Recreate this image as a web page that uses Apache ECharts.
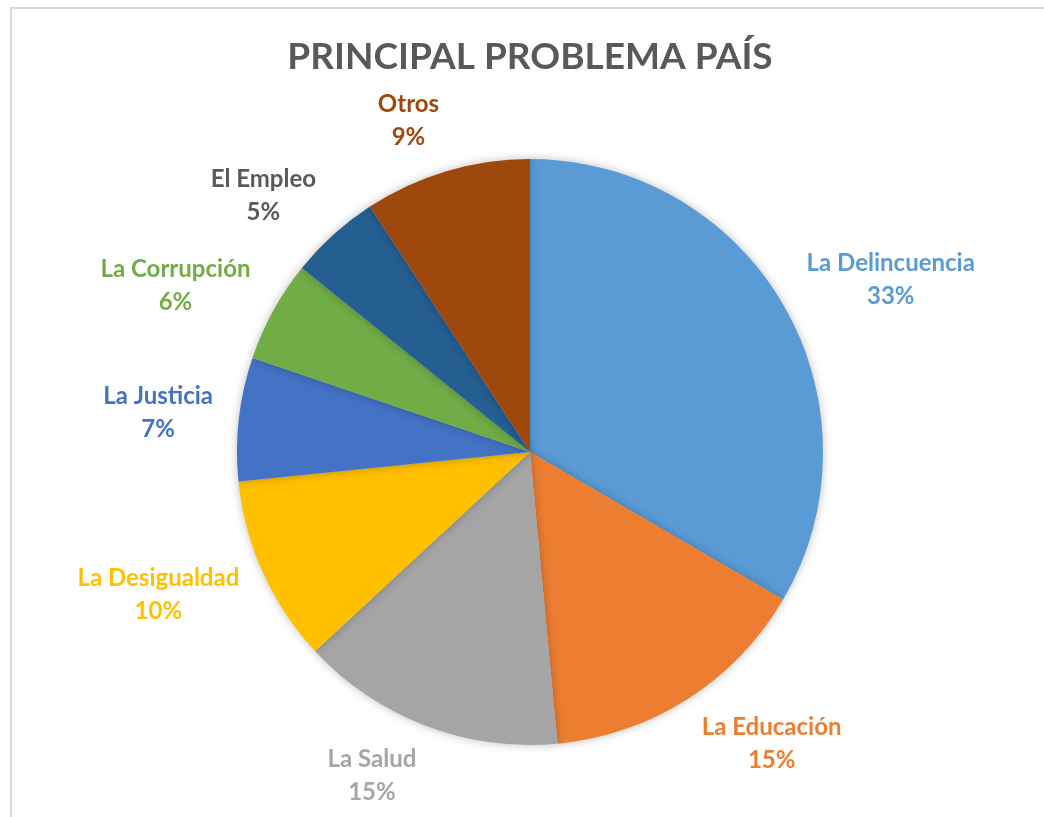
<!DOCTYPE html>
<html>
<head>
<meta charset="utf-8">
<script src="https://cdn.jsdelivr.net/npm/echarts@6/dist/echarts.min.js"></script>
<style>
  html, body { margin: 0; padding: 0; background: #fff; }
  #chart { width: 1044px; height: 817px; }
</style>
</head>
<body>
<div id="chart"></div>
<script>
const categories = ["La Delincuencia", "La Educación", "La Salud", "La Desigualdad", "La Justicia", "La Corrupción", "El Empleo", "Otros"];
// shares (labels show them rounded)
const shares = [33.4, 15.1, 14.6, 10.3, 6.8, 5.6, 5.0, 9.2];
const sliceColors = ["#5B9BD5", "#ED7D31", "#A5A5A5", "#FFC000", "#4472C4", "#70AD47", "#255E91", "#9E480E"];
const labelColors = ["#5B9BD5", "#ED7D31", "#A5A5A5", "#FFC000", "#4472C4", "#70AD47", "#595959", "#9E480E"];

const PIE_CENTER = [530, 452];
const PIE_RADIUS = 293;
const GAP_X = 26;
const GAP_Y = 20;

// mid angle of each slice, clockwise from 12 o'clock
const total = shares.reduce((a, b) => a + b, 0);
const midAngles = [];
let acc = 0;
shares.forEach((v) => {
  midAngles.push(((acc + v / 2) / total) * Math.PI * 2);
  acc += v;
});

const chart = echarts.init(document.getElementById("chart"));

chart.setOption({
  backgroundColor: "#fff",
  title: {
    text: "PRINCIPAL PROBLEMA PAÍS",
    left: 525,
    textAlign: "center",
    top: 34,
    textStyle: { fontFamily: "Lato", fontWeight: "bold", fontSize: 37, color: "#595959" },
  },
  graphic: [
    {
      type: "rect",
      shape: { x: 11, y: 8, width: 1060, height: 840 },
      style: { fill: "none", stroke: "#D9D9D9", lineWidth: 2 },
      silent: true,
    },
  ],
  series: [
    {
      type: "pie",
      center: PIE_CENTER,
      radius: PIE_RADIUS,
      startAngle: 90,
      clockwise: true,
      animation: false,
      data: categories.map((name, i) => ({
        name,
        value: shares[i],
        itemStyle: { color: sliceColors[i] },
        label: { color: labelColors[i] },
      })),
      itemStyle: { shadowBlur: 10, shadowColor: "rgba(0,0,0,0.25)" },
      label: {
        show: true,
        position: "outside",
        formatter: (p) => `${p.name}\n${Math.round(p.value)}%`,
        fontFamily: "Lato",
        fontWeight: "bold",
        fontSize: 24,
        lineHeight: 33,
      },
      labelLine: { show: false },
      // Excel-like "outside end": box pushed out past the rim along the mid angle
      labelLayout: (params) => {
        const a = midAngles[params.dataIndex];
        const ux = Math.sin(a);
        const uy = -Math.cos(a);
        const w = params.labelRect.width / 2;
        const h = params.labelRect.height / 2;
        return {
          x: PIE_CENTER[0] + (PIE_RADIUS + GAP_X) * ux + w * Math.sign(ux),
          y: PIE_CENTER[1] + (PIE_RADIUS + GAP_Y + h) * uy,
          align: "center",
          verticalAlign: "middle",
        };
      },
    },
  ],
});
</script>
</body>
</html>
